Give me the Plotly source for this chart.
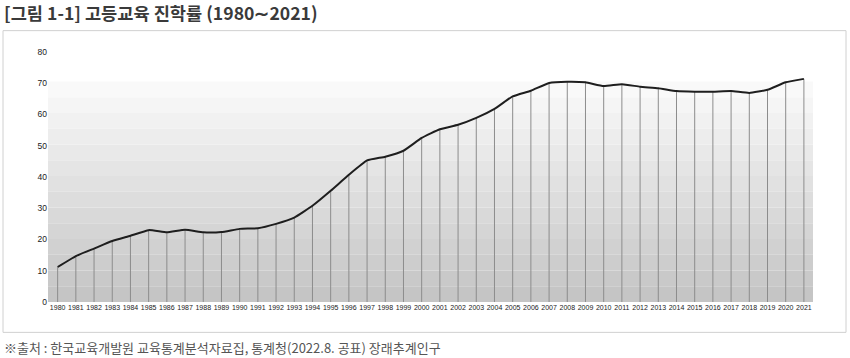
import plotly.graph_objects as go

years = list(range(1980, 2022))
rates = [11.2, 14.7, 17.1, 19.5, 21.2, 23.0, 22.3, 23.1, 22.3, 22.4,
         23.4, 23.6, 25.0, 27.0, 30.8, 35.6, 40.7, 45.3, 46.5, 48.4,
         52.5, 55.3, 56.7, 58.9, 61.8, 65.8, 67.6, 70.1, 70.5, 70.3,
         69.1, 69.7, 68.9, 68.4, 67.5, 67.3, 67.3, 67.5, 66.9, 67.9,
         70.3, 71.4]
y_ticks = [0, 10, 20, 30, 40, 50, 60, 70, 80]
title_text = "[그림 1-1] 고등교육 진학률 (1980∼2021)"
source_text = "※출처 : 한국교육개발원 교육통계분석자료집, 통계청(2022.8. 공표) 장래추계인구"

fig = go.Figure()

# vertical drop lines
vx, vy = [], []
for x, v in zip(years, rates):
    vx += [x, x, None]
    vy += [0, v, None]
fig.add_trace(go.Scatter(x=vx, y=vy, mode="lines",
                         line=dict(color="#8c8c8c", width=1),
                         hoverinfo="skip", showlegend=False))
fig.add_trace(go.Scatter(x=years, y=rates, mode="lines",
                         line=dict(color="#1e1e1e", width=2, shape="spline", smoothing=0.4),
                         showlegend=False))

# banded gradient background
shapes = []
top = 70.6
n = 14
c0 = (0xc5, 0xc5, 0xc5)
c1 = (0xf9, 0xf9, 0xf9)
for i in range(n):
    t = i / (n - 1)
    c = tuple(int(round(a + (b - a) * t)) for a, b in zip(c0, c1))
    shapes.append(dict(type="rect", xref="paper", yref="y", layer="below",
                       x0=0, x1=1, y0=top * i / n, y1=top * (i + 1) / n,
                       fillcolor="rgb(%d,%d,%d)" % c, line=dict(width=0)))

# outer box
shapes.append(dict(type="rect", xref="paper", yref="paper", layer="below",
                   x0=(3 - 48) / 765, x1=(846 - 48) / 765,
                   y0=(301.7 - 332) / 249.4, y1=(301.7 - 31) / 249.4,
                   line=dict(color="#d0d0d0", width=1), fillcolor="rgba(0,0,0,0)"))

fig.update_layout(
    width=850, height=358,
    margin=dict(l=48, r=37, t=52.3, b=56.3, autoexpand=False),
    paper_bgcolor="white", plot_bgcolor="white",
    shapes=shapes,
    xaxis=dict(range=[1979.47, 2021.5], tickmode="array", tickvals=years,
               ticktext=[str(y) for y in years], showgrid=False, zeroline=False,
               showline=False, ticks="", tickangle=0,
               tickfont=dict(family="Liberation Sans", size=7, color="#222")),
    yaxis=dict(range=[0, 80], tickmode="array", tickvals=y_ticks,
               showgrid=False, zeroline=False, showline=False, ticks="",
               tickfont=dict(family="Liberation Sans", size=8.5, color="#222")),
    annotations=[
        dict(text=title_text, xref="paper", yref="paper", x=(2 - 48) / 765,
             y=(301.7 - 12.5) / 249.4, xanchor="left", yanchor="middle", showarrow=False,
             font=dict(family="Noto Sans CJK KR", size=17.6, color="#3a3a3a", weight="bold")),
        dict(text=source_text, xref="paper", yref="paper", x=(2 - 48) / 765,
             y=(301.7 - 347) / 249.4, xanchor="left", yanchor="middle", showarrow=False,
             font=dict(family="Noto Sans CJK KR", size=13, color="#555")),
    ],
)

fig.write_html("out.html", config={"displayModeBar": False},
               post_script="document.body.style.margin='0';")
